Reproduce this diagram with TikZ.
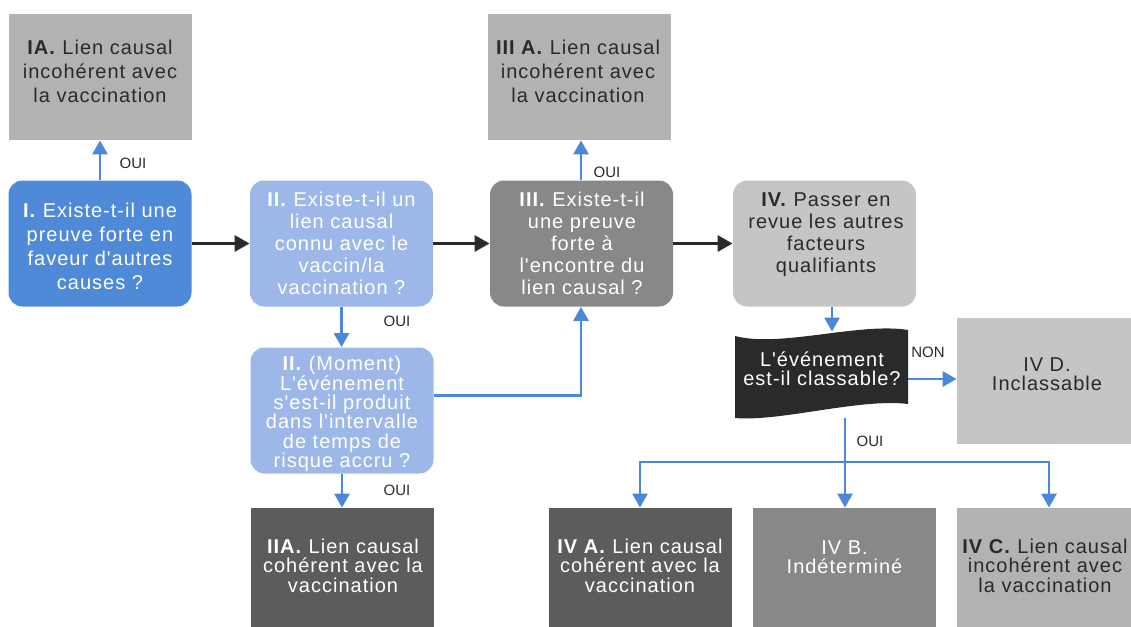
\documentclass[tikz,border=0pt]{standalone}
\usepackage{fontspec}
\setmainfont{Liberation Sans}[LetterSpace=5, Ligatures=TeXOff]
\newfontfamily\lblfont{Liberation Sans}
\usetikzlibrary{arrows.meta,calc}
\definecolor{cBlue}{HTML}{4E8AD8}
\definecolor{cLblue}{HTML}{9DB8E8}
\definecolor{cArrow}{HTML}{4A88DA}
\definecolor{cDark}{HTML}{5C5C5C}
\definecolor{cMid}{HTML}{888888}
\definecolor{cLight}{HTML}{B1B2B1}
\definecolor{cLighter}{HTML}{C4C5C4}
\definecolor{cBlack}{HTML}{2A2A2A}
\tikzset{
  box/.style={draw=none, minimum width=91.5pt, minimum height=63pt, inner sep=0pt},
  rbox/.style={box, rounded corners=7pt},
  txt/.style={align=center, inner sep=0pt, font=\fontsize{10}{12}\selectfont},
  txtb/.style={txt, font=\fontsize{10}{11}\selectfont},
  txtc/.style={txt, font=\fontsize{10}{9.7}\selectfont},
  wtxt/.style={text=white},
  dtxt/.style={text=cBlack},
  lbl/.style={inner sep=0pt, text=cBlack, font=\lblfont\fontsize{7.5}{9}\selectfont},
  barrow/.style={draw=cArrow, line width=1.4pt, -{Triangle[width=7.5pt,length=7pt]}},
  bline/.style={draw=cArrow, line width=1.4pt},
  karrow/.style={draw=cBlack, line width=1.5pt, -{Triangle[width=8pt,length=7.5pt]}},
}
\begin{document}
\begin{tikzpicture}[x=0.5pt,y=-0.5pt]
\useasboundingbox (0,0) rectangle (1131,627);
% boxes
\node[box, fill=cLight] (IA) at (100.5,77) {};
\node[rbox, fill=cBlue] (I) at (100,243.5) {};
\node[rbox, fill=cLblue] (II) at (341.5,243.5) {};
\node[box, fill=cLight] (IIIA) at (579.5,77) {};
\node[rbox, fill=cMid] (III) at (581.5,243.5) {};
\node[rbox, fill=cLighter] (IV) at (824.5,243.5) {};
\node[rbox, fill=cLblue] (IIm) at (342,410.5) {};
\node[box, fill=cDark, minimum height=59.5pt] (IIA) at (342.5,567.5) {};
\node[box, fill=cDark, minimum height=59.5pt] (IVA) at (640,567.5) {};
\node[box, fill=cMid, minimum height=59.5pt] (IVB) at (844.5,567.5) {};
\node[box, fill=cLight, minimum height=59.5pt, minimum width=87pt] (IVC) at (1044,567.5) {};
\node[box, fill=cLighter, minimum width=87pt] (IVD) at (1044,381) {};
% wavy node (placeholder for anchors)
\node[inner sep=0pt, minimum width=86.5pt, minimum height=45pt] (wavy) at (821.5,373) {};
\coordinate (split) at (845,462);
% connectors drawn below the wavy shape
\draw[bline] (split |- wavy.south) -- (split);
\draw[barrow] (split) -| (IVA.north);
\draw[barrow] (split) -- (split |- IVB.north);
\draw[barrow] (split) -| ([xshift=2.5pt]IVC.north);
\fill[cBlack] (735,336) .. controls (780,348) and (860,322) .. (908,330)
  -- (908,404) .. controls (860,398) and (780,422) .. (735,418) -- cycle;
% texts
\node[txt, dtxt] (IAt) at (100,71) {\textbf{IA.} Lien causal\\incohérent avec\\la vaccination};
\node[txt, wtxt] (It) at (100,246.5) {\textbf{I.} Existe-t-il une\\preuve forte en\\faveur d'autres\\causes ?};
\node[txtb, wtxt] (IIt) at (341.5,243) {\textbf{II.} Existe-t-il un\\lien causal\\connu avec le\\vaccin/la\\vaccination ?};
\node[txt, dtxt] (IIIAt) at (578,71) {\textbf{III A.} Lien causal\\incohérent avec\\la vaccination};
\node[txtb, wtxt] (IIIt) at (582,243) {\textbf{III.} Existe-t-il\\une preuve\\forte à\\l'encontre du\\lien causal ?};
\node[txtb, dtxt] (IVt) at (826,235) {\textbf{IV.} Passer en\\revue les autres\\facteurs\\qualifiants};
\node[txtc, wtxt] (IImt) at (342,414) {\textbf{II.} (Moment)\\L'événement\\s'est-il produit\\dans l'intervalle\\de temps de\\risque accru ?};
\node[txtc, wtxt] (IIAt) at (343,565.5) {\textbf{IIA.} Lien causal\\cohérent avec la\\vaccination};
\node[txtc, wtxt] (IVAt) at (640,565.5) {\textbf{IV A.} Lien causal\\cohérent avec la\\vaccination};
\node[txtc, wtxt] (IVBt) at (844.5,557) {IV B.\\Indéterminé};
\node[txtc, dtxt] (IVCt) at (1045,565.5) {\textbf{IV C.} Lien causal\\incohérent avec\\la vaccination};
\node[txtc, dtxt] (IVDt) at (1047,374) {IV D.\\Inclassable};
\node[txtc, wtxt] (wavyt) at (822,369) {L'événement\\est-il classable?};
% connectors
\draw[barrow] (I.north) -- (I.north |- IA.south);
\draw[karrow] (I.east) -- (II.west);
\draw[karrow] (II.east) -- (III.west);
\draw[karrow] (III.east) -- (IV.west);
\draw[barrow] ([xshift=-0.25pt]III.north) -- ([xshift=-0.25pt]III.north |- IIIA.south);
\draw[barrow] (II.south) -- (II.south |- IIm.north);
\draw[barrow] ([yshift=7.5pt]IIm.east) -| ([xshift=-0.25pt]III.south);
\draw[barrow] (IIm.south) -- (IIm.south |- IIA.north);
\draw[barrow] ([xshift=3.75pt]IV.south) -- ([xshift=3.75pt,yshift=-2pt]IV.south |- wavy.north);
\draw[barrow] ([yshift=-3pt]wavy.east) -- ([yshift=-3pt]wavy.east -| IVD.west);
% labels
\node[lbl] (l1) at (133,163) {OUI};
\node[lbl] (l2) at (607,172) {OUI};
\node[lbl] (l3) at (397,321) {OUI};
\node[lbl] (l4) at (397,490) {OUI};
\node[lbl] (l5) at (870,441) {OUI};
\node[lbl] (l6) at (928,352) {NON};
\end{tikzpicture}
\end{document}
